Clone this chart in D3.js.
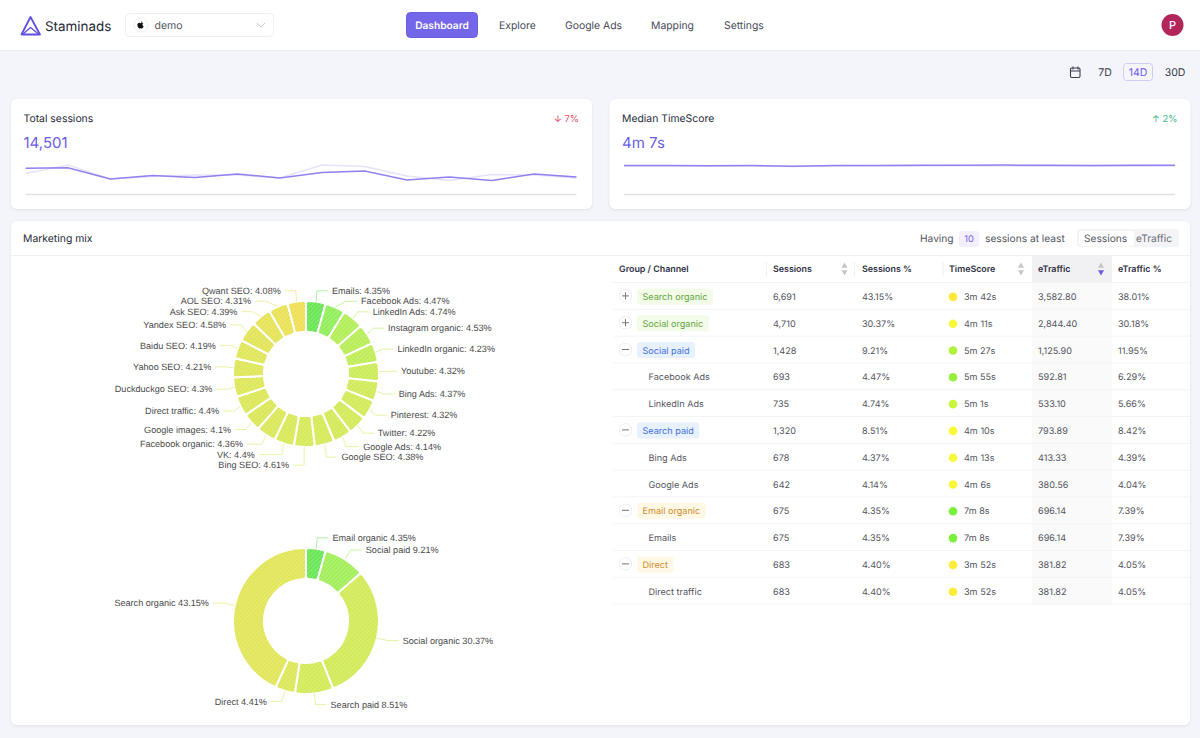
<!DOCTYPE html>
<html>
<head>
<meta charset="utf-8">
<title>Staminads</title>
<script src="https://cdn.jsdelivr.net/npm/d3@7"></script>
<style>
  html, body { margin: 0; padding: 0; background: #f4f5fa; overflow: hidden; }
  svg { display: block; font-family: Inter, sans-serif; text-rendering: geometricPrecision; }
  .card { filter: drop-shadow(0 1px 1.5px rgba(30, 30, 60, .09)); }
  .pie-label { font-family: "Liberation Sans", Arial, sans-serif; font-size: 9.1px; fill: #4a4a4a; }
</style>
</head>
<body>
<svg id="page" width="1200" height="738"></svg>
<script>
// ---- data ----
const navItems = ["Explore", "Google Ads", "Mapping", "Settings"];
const rangeItems = ["7D", "14D", "30D"];

const sessionsNow = [1405, 1432, 829, 1017, 910, 1097, 883, 1177, 1257, 776, 936, 749, 1097, 936];
const sessionsPrev = [1124, 1578, 829, 963, 1043, 1043, 883, 1578, 1498, 990, 749, 1070, 1043, 883];
const timeScoreNow = [247, 246, 245, 246, 241, 246, 247, 248, 249, 250, 248, 247, 248, 249];
const timeScorePrev = [241, 240, 240, 241, 238, 241, 242, 243, 244, 242, 241, 240, 241, 242];

// channels, clockwise from the top of the first donut
const channelNames = ["Emails", "Facebook Ads", "LinkedIn Ads", "Instagram organic", "LinkedIn organic", "Youtube",
  "Bing Ads", "Pinterest", "Twitter", "Google Ads", "Google SEO", "Bing SEO", "VK", "Facebook organic",
  "Google images", "Direct traffic", "Duckduckgo SEO", "Yahoo SEO", "Baidu SEO", "Yandex SEO", "Ask SEO", "AOL SEO", "Qwant SEO"];
const channelPct = [4.35, 4.47, 4.74, 4.53, 4.23, 4.32, 4.37, 4.32, 4.22, 4.14, 4.38, 4.61, 4.4, 4.36, 4.1, 4.4, 4.3, 4.21, 4.19, 4.58, 4.39, 4.31, 4.08];
const channelSeconds = [428, 355, 301, 292, 278, 262, 253, 251, 249, 246, 244, 241, 238, 236, 234, 232, 230, 227, 224, 220, 217, 212, 206];

const groupNames = ["Email organic", "Social paid", "Social organic", "Search paid", "Direct", "Search organic"];
const groupPct = [4.35, 9.21, 30.37, 8.51, 4.41, 43.15];
const groupSeconds = [428, 327, 251, 250, 232, 222];

// table rows, top to bottom
const rowNames = ["Search organic", "Social organic", "Social paid", "Facebook Ads", "LinkedIn Ads", "Search paid",
  "Bing Ads", "Google Ads", "Email organic", "Emails", "Direct", "Direct traffic"];
const rowTags = ["green", "green", "blue", null, null, "blue", null, null, "amber", null, "amber", null];
const rowOpen = [false, false, true, null, null, true, null, null, true, null, true, null];
const rowSessions = ["6,691", "4,710", "1,428", "693", "735", "1,320", "678", "642", "675", "675", "683", "683"];
const rowSessionsPct = ["43.15%", "30.37%", "9.21%", "4.47%", "4.74%", "8.51%", "4.37%", "4.14%", "4.35%", "4.35%", "4.40%", "4.40%"];
const rowTime = ["3m 42s", "4m 11s", "5m 27s", "5m 55s", "5m 1s", "4m 10s", "4m 13s", "4m 6s", "7m 8s", "7m 8s", "3m 52s", "3m 52s"];
const rowSeconds = [222, 251, 327, 355, 301, 250, 253, 246, 428, 428, 232, 232];
const rowTraffic = ["3,582.80", "2,844.40", "1,125.90", "592.81", "533.10", "793.89", "413.33", "380.56", "696.14", "696.14", "381.82", "381.82"];
const rowTrafficPct = ["38.01%", "30.18%", "11.95%", "6.29%", "5.66%", "8.42%", "4.39%", "4.04%", "7.39%", "7.39%", "4.05%", "4.05%"];
const tableColumns = ["Group / Channel", "Sessions", "Sessions %", "TimeScore", "eTraffic", "eTraffic %"];

// ---- colours ----
const VIOLET = "#6c5ce7";
const TEXT = "#54555e";
const DARK = "#262a38";
const timeStops = [206, 225, 250, 300, 355, 428];
const sliceColor = d3.scaleLinear().domain(timeStops)
  .range(["#eedf52", "#dee657", "#d2ea56", "#b2ee56", "#90ee58", "#68e654"]);
const dotColor = d3.scaleLinear().domain(timeStops)
  .range(["#ffdf38", "#ffe93c", "#f9f93a", "#c8f63a", "#94f03a", "#7af03c"]);
const tagStyles = {
  green: { bg: "#f3fbe9", fg: "#63a63c" },
  blue: { bg: "#e8f1fe", fg: "#3f6fe0" },
  amber: { bg: "#fff8e5", fg: "#d08c30" }
};

const svg = d3.select("#page");

// draws one text node, sizes and colours passed in per call
function txt(parent, x, y, str, o = {}) {
  return parent.append("text")
    .attr("x", x).attr("y", y).attr("dy", ".35em")
    .attr("text-anchor", o.anchor || "start")
    .attr("font-size", o.size || 10)
    .attr("font-weight", o.weight || 400)
    .attr("fill", o.color || TEXT)
    .text(str);
}

function box(parent, x, y, w, h, r, fill, stroke) {
  return parent.append("rect")
    .attr("x", x).attr("y", y).attr("width", w).attr("height", h).attr("rx", r)
    .attr("fill", fill).attr("stroke", stroke || "none");
}

// ---- header ----
function drawHeader() {
  const g = svg.append("g");
  g.append("rect").attr("width", 1200).attr("height", 50).attr("fill", "#fff");
  g.append("rect").attr("y", 50).attr("width", 1200).attr("height", 1).attr("fill", "#e9eaf0");

  // logo
  const logo = g.append("g").attr("fill", "none").attr("stroke", "#5f50e0").attr("stroke-linejoin", "round");
  logo.append("path").attr("d", "M30.5 17 L21.5 34.5 L40 34.5 Z").attr("stroke-width", 1.8);
  logo.append("path").attr("d", "M23 34 L30.5 27.5 L38.5 34").attr("stroke-width", 1.3);
  txt(g, 45, 26, "Staminads", { size: 13.4, color: DARK });

  // project select
  box(g, 125.5, 13.5, 148, 23, 4, "#fff", "#eeeff3");
  g.append("circle").attr("cx", 141).attr("cy", 25).attr("r", 7).attr("fill", "#fff").attr("stroke", "#f0f0f3");
  g.append("path").attr("fill", "#111")
    .attr("d", "M141 23.2c.6-.5 1.7-.7 2.4-.2-.7.5-1 1.1-.9 1.8.1.8.6 1.3 1.1 1.5-.3 1-1 2.2-1.8 2.2-.5 0-.7-.3-1.2-.3s-.7.3-1.2.3c-.9 0-2-1.8-2-3.4 0-1.5 1-2.3 2-2.3.6 0 1.1.4 1.6.4zM141 22.8c0-.9.6-1.5 1.3-1.6 0 .9-.5 1.5-1.3 1.6z");
  txt(g, 154.5, 25, "demo", { size: 10.5 });
  g.append("path").attr("d", "M257 23l4 4 4-4").attr("fill", "none").attr("stroke", "#c8c9cf").attr("stroke-width", 1);

  // nav
  box(g, 406.5, 12.5, 71, 25, 4, "#7466e8", "#6a5ce0");
  txt(g, 442, 25, "Dashboard", { size: 10.2, weight: 600, color: "#fff", anchor: "middle" });
  const navLeft = [499, 565, 651, 724];
  navItems.forEach((n, i) => txt(g, navLeft[i], 25, n, { size: 10.4, color: "#474b59" }));

  // avatar
  g.append("circle").attr("cx", 1172.5).attr("cy", 25).attr("r", 11).attr("fill", "#b3265c");
  txt(g, 1172.5, 25, "P", { size: 11, weight: 500, color: "#fff", anchor: "middle" });

  // date range
  const cal = g.append("g").attr("fill", "none").attr("stroke", "#3c3f4a").attr("stroke-width", 1.1);
  cal.append("rect").attr("x", 1070.5).attr("y", 68).attr("width", 9.5).attr("height", 9.5).attr("rx", 1.2);
  cal.append("path").attr("d", "M1070.5 71h9.5M1073 66.5v3M1078 66.5v3");
  box(g, 1123.5, 63.5, 29, 17, 3, "#f6f5fe", "#cfcbf6");
  const rangeCenter = [1105, 1138, 1175];
  rangeItems.forEach((r, i) => txt(g, rangeCenter[i], 72, r, { size: 10.5, anchor: "middle", color: i === 1 ? VIOLET : "#363a46" }));
}

// ---- KPI cards with sparkline ----
function drawKpi(left, title, value, delta, deltaColor, now, prev, yMax) {
  const g = svg.append("g");
  box(g, left, 99, 581, 110, 6, "#fff").attr("class", "card");
  txt(g, left + 12.5, 118.5, title, { size: 10.4, color: DARK });
  txt(g, left + 12.5, 143, value, { size: 15, color: VIOLET });
  txt(g, left + 568, 118.5, delta, { size: 9.4, color: deltaColor, anchor: "end" });

  const x = d3.scaleLinear().domain([0, now.length - 1]).range([left + 14.5, left + 565.5]);
  const y = d3.scaleLinear().domain([0, yMax]).range([194.5, 164.5]);
  const line = d3.line().x((d, i) => x(i)).y(d => y(d));

  g.append("line").attr("x1", x(0)).attr("x2", x(now.length - 1)).attr("y1", y(0)).attr("y2", y(0))
    .attr("stroke", "#e1e2e6").attr("stroke-width", 1.5);
  g.append("path").datum(prev).attr("d", line).attr("fill", "none").attr("stroke", "#e6e2fb").attr("stroke-width", 1.5);
  g.append("path").datum(now).attr("d", line).attr("fill", "none").attr("stroke", "#8f82ef").attr("stroke-width", 1.5);
}

// ---- donuts ----
const RAD_OUT = 73;
const RAD_IN = 42;
const LEADER_LEN = 15;
// leaders that run longer than the rest in the picture
const leaderExtra = { "VK": 12, "Facebook organic": 4, "Google Ads": 2 };

function drawDonut(parent, names, pct, seconds, cy, sep, radiusX) {
  const cx = 306;
  const radiusY = 84;
  const g = parent.append("g").attr("transform", `translate(${cx},${cy})`);
  const rows = names.map((name, i) => ({ name, pct: pct[i], sec: seconds[i] }));
  const arcs = d3.pie().sort(null).value(d => d.pct)(rows);
  const arc = d3.arc().innerRadius(RAD_IN).outerRadius(RAD_OUT).cornerRadius(2.5);

  g.selectAll("path.slice").data(arcs).enter().append("path").attr("class", "slice")
    .attr("d", arc).attr("fill", d => sliceColor(d.data.sec))
    .attr("stroke", "#fff").attr("stroke-width", 2);
  g.selectAll("path.hatch").data(arcs).enter().append("path").attr("class", "hatch")
    .attr("d", arc).attr("fill", "url(#hatch)");

  // label placement: radial point, then push labels down the side so they do not collide
  arcs.forEach(a => {
    a.mid = (a.startAngle + a.endAngle) / 2;
    a.side = Math.sin(a.mid) >= 0 ? 1 : -1;
    a.ly0 = -Math.cos(a.mid) * radiusY;
    a.ly = a.ly0;
  });
  [1, -1].forEach(side => {
    const list = arcs.filter(a => a.side === side).sort((p, q) => p.ly0 - q.ly0);
    list.forEach((a, i) => {
      if (i > 0 && a.ly < list[i - 1].ly + 10.5) a.ly = list[i - 1].ly + 10.5;
    });
  });
  arcs.forEach(a => {
    let dx = Math.abs(Math.sin(a.mid)) * radiusX;
    // pushed labels slide back onto the ellipse
    if (a.ly - a.ly0 > 2.5 && Math.abs(a.ly) < radiusY) {
      dx = radiusX * Math.sqrt(1 - (a.ly / radiusY) ** 2);
    }
    a.elbow = a.side * dx;
    a.lx = a.elbow + a.side * (LEADER_LEN + (leaderExtra[a.data.name] || 0));
  });

  g.selectAll("path.leader").data(arcs).enter().append("path").attr("class", "leader")
    .attr("fill", "none").attr("stroke-width", 1)
    .attr("stroke", d => sliceColor(d.data.sec)).attr("stroke-opacity", .55)
    .attr("d", a => `M${Math.sin(a.mid) * RAD_OUT},${-Math.cos(a.mid) * RAD_OUT}L${a.elbow},${a.ly}L${a.lx - a.side * 4},${a.ly}`);

  g.selectAll("text").data(arcs).enter().append("text").attr("class", "pie-label")
    .attr("x", a => a.lx).attr("y", a => a.ly).attr("dy", ".35em")
    .attr("text-anchor", a => a.side > 0 ? "start" : "end")
    .text(a => `${a.data.name}${sep}${a.data.pct}%`);
}

// ---- table ----
function drawTable(parent) {
  const g = parent.append("g");
  const colX = [619, 773, 862, 949, 1038, 1118];
  const cellSize = 9.1;
  const headTop = 256;
  const headBottom = 282.5;
  const rowH = 26.8;
  const rowY = d3.scaleLinear().domain([0, rowNames.length]).range([headBottom, headBottom + rowH * rowNames.length]);

  g.append("rect").attr("x", 1032).attr("y", headBottom).attr("width", 80).attr("height", rowY(rowNames.length) - headBottom).attr("fill", "#fafafa");
  g.append("rect").attr("x", 1032).attr("y", headTop).attr("width", 80).attr("height", headBottom - headTop).attr("fill", "#f1f1f3");

  tableColumns.forEach((c, i) => txt(g, colX[i], 269, c, { size: 8.9, weight: 600, color: "#2b2f3f" }));
  [766.5, 854.5, 943].forEach(x => g.append("line").attr("x1", x).attr("x2", x).attr("y1", 262).attr("y2", 276).attr("stroke", "#eeeef1"));

  const tri = d3.symbol().type(d3.symbolTriangle).size(16);
  [844.5, 1021, 1101].forEach((x, i) => {
    g.append("path").attr("d", tri).attr("transform", `translate(${x},266)`).attr("fill", "#c5c6cb");
    g.append("path").attr("d", tri).attr("transform", `translate(${x},272) rotate(180)`).attr("fill", i === 2 ? "#6c5ce7" : "#c5c6cb");
  });

  g.append("line").attr("x1", 613).attr("x2", 1190).attr("y1", headBottom).attr("y2", headBottom).attr("stroke", "#f3f3f5");

  rowNames.forEach((name, i) => {
    const cy = (rowY(i) + rowY(i + 1)) / 2;
    const ty = cy + 1;
    g.append("line").attr("x1", 613).attr("x2", 1190).attr("y1", rowY(i + 1)).attr("y2", rowY(i + 1)).attr("stroke", "#f4f4f6");

    if (rowTags[i]) {
      // group row: expander + coloured tag
      g.append("rect").attr("x", 619.5).attr("y", cy - 6).attr("width", 12).attr("height", 12).attr("rx", 5)
        .attr("fill", "#fff").attr("stroke", "#eeeef1");
      const sign = rowOpen[i] ? "M622 0h7" : "M622 0h7M625.5 -3.5v7";
      g.append("path").attr("d", sign).attr("transform", `translate(0,${cy})`).attr("stroke", "#777").attr("stroke-width", 1).attr("fill", "none");
      const style = tagStyles[rowTags[i]];
      const tag = g.append("rect").attr("x", 637).attr("y", cy - 7.5).attr("height", 16).attr("rx", 3).attr("fill", style.bg);
      const label = txt(g, 642.5, ty, name, { size: cellSize, color: style.fg });
      tag.attr("width", label.node().getComputedTextLength() + 11);
    } else {
      txt(g, 648.5, ty, name, { size: cellSize });
    }
    txt(g, colX[1], ty, rowSessions[i], { size: cellSize });
    txt(g, colX[2], ty, rowSessionsPct[i], { size: cellSize });
    g.append("circle").attr("cx", 953).attr("cy", ty).attr("r", 4.3).attr("fill", dotColor(rowSeconds[i]));
    txt(g, 964, ty, rowTime[i], { size: cellSize });
    txt(g, colX[4], ty, rowTraffic[i], { size: cellSize });
    txt(g, colX[5], ty, rowTrafficPct[i], { size: cellSize });
  });
}

// ---- page ----
const defs = svg.append("defs");
const hatch = defs.append("pattern").attr("id", "hatch").attr("patternUnits", "userSpaceOnUse")
  .attr("width", 3).attr("height", 3).attr("patternTransform", "rotate(45)");
hatch.append("rect").attr("width", 1.1).attr("height", 3).attr("fill", "#fff").attr("fill-opacity", .2);

drawHeader();
drawKpi(11, "Total sessions", "14,501", "↓ 7%", "#e5455f", sessionsNow, sessionsPrev, 1605);
drawKpi(609.5, "Median TimeScore", "4m 7s", "↑ 2%", "#3cb57f", timeScoreNow, timeScorePrev, 255);

const mix = svg.append("g");
box(mix, 11, 221, 1179, 504, 6, "#fff").attr("class", "card");
mix.append("line").attr("x1", 11).attr("x2", 1190).attr("y1", 255.5).attr("y2", 255.5).attr("stroke", "#eff0f3");
txt(mix, 23, 238, "Marketing mix", { size: 10.4, color: DARK });
txt(mix, 920, 238.5, "Having", { size: 10.2 });
box(mix, 959, 231, 20, 16, 3, "#f4effc");
txt(mix, 969, 239, "10", { size: 9.2, color: VIOLET, anchor: "middle" });
txt(mix, 985, 238.5, "sessions at least", { size: 10.2 });
box(mix, 1077, 229, 102, 18, 3, "#f4f4f6");
box(mix, 1079, 231, 55, 15, 2, "#fff");
txt(mix, 1084, 238.5, "Sessions", { size: 10.2 });
txt(mix, 1136, 238.5, "eTraffic", { size: 10.2, color: "#6b6d76" });

drawDonut(mix, channelNames, channelPct, channelSeconds, 374, ": ", 80);
drawDonut(mix, groupNames, groupPct, groupSeconds, 621, " ", 84);
drawTable(mix);
</script>
</body>
</html>
